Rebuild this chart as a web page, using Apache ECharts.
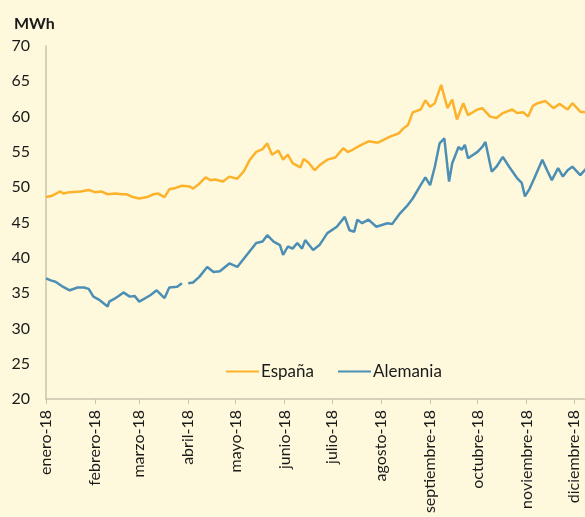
<!DOCTYPE html>
<html>
<head>
<meta charset="utf-8">
<script src="https://cdn.jsdelivr.net/npm/echarts@6/dist/echarts.min.js"></script>
<style>
html,body{margin:0;padding:0;background:#fef9dc;}
#chart{width:585px;height:517px;}
</style>
</head>
<body>
<div id="chart"></div>
<script>
// Month tick labels and their day-of-year positions
const monthLabels = ['enero-18','febrero-18','marzo-18','abril-18','mayo-18','junio-18','julio-18','agosto-18','septiembre-18','octubre-18','noviembre-18','diciembre-18'];
const monthDays = [0,31,59,90,120,151,181,212,243,273,304,334];
const yTicks = [20,25,30,35,40,45,50,55,60,65,70];

// España (day of year, MWh)
const espanaDays = [0,4,9,11,15,22,27,31,35,39,44,48,51,55,59,64,68,71,75,78,82,86,91,93,97,101,104,107,112,116,121,125,129,133,137,140,143,147,150,153,156,161,163,166,170,173,178,183,188,191,194,197,204,210,218,223,226,229,232,237,240,243,246,250,254,257,260,264,267,273,276,281,285,289,295,298,302,305,308,311,316,321,325,330,333,338,342];
const espana = [48.6,48.8,49.4,49.1,49.3,49.4,49.6,49.3,49.4,49.0,49.1,49.0,49.0,48.6,48.4,48.6,49.0,49.1,48.6,49.7,49.9,50.2,50.1,49.8,50.5,51.4,51.0,51.1,50.8,51.5,51.2,52.2,53.9,55.0,55.4,56.2,54.6,55.2,53.9,54.6,53.4,52.8,54.0,53.5,52.4,53.1,53.9,54.2,55.5,55.0,55.3,55.7,56.5,56.3,57.2,57.6,58.3,58.8,60.6,61.0,62.3,61.4,61.9,64.5,61.2,62.4,59.6,61.9,60.2,61.0,61.2,60.0,59.8,60.5,61.0,60.5,60.6,60.0,61.5,61.9,62.2,61.2,61.8,61.0,61.9,60.7,60.6];

// Alemania (day of year, MWh); null = missing data
const alemaniaDays = [0,3,6,10,15,20,24,27,30,34,39,40,44,46,49,53,56,59,66,70,75,78,83,86,88,90,93,97,102,106,110,116,121,127,133,137,140,144,148,150,153,156,159,162,164,169,173,178,184,189,192,195,197,200,204,209,216,219,224,229,232,237,240,243,246,249,252,255,257,261,263,265,267,273,276,278,282,285,289,293,298,301,303,306,309,314,317,320,324,327,330,333,338,342];
const alemania = [37.1,36.8,36.6,36.0,35.4,35.8,35.8,35.6,34.5,34.0,33.1,33.8,34.3,34.6,35.1,34.5,34.6,33.8,34.7,35.4,34.3,35.8,35.9,36.4,null,36.4,36.5,37.3,38.7,38.0,38.1,39.2,38.7,40.4,42.1,42.3,43.2,42.3,41.8,40.4,41.6,41.3,42.1,41.3,42.5,41.1,41.8,43.5,44.4,45.8,43.9,43.7,45.4,44.9,45.4,44.4,44.9,44.8,46.3,47.5,48.4,50.3,51.4,50.3,52.9,56.2,56.9,50.8,53.4,55.7,55.3,56.0,54.1,55.0,55.7,56.4,52.2,52.9,54.3,52.9,51.3,50.6,48.7,49.8,51.3,53.9,52.4,51.0,52.7,51.5,52.4,52.9,51.7,52.7];

const pair = (days, vals) => days.map((d, i) => [d, vals[i] === null ? '-' : vals[i]]);
const FONT = 'Lato, "Open Sans", sans-serif';

const chart = echarts.init(document.getElementById('chart'), null, {renderer: 'canvas'});
chart.setOption({
  backgroundColor: '#fef9dc',
  animation: false,
  textStyle: {fontFamily: FONT},
  title: {
    text: 'MWh', left: 9, top: 11,
    textStyle: {fontFamily: FONT, fontSize: 16, fontWeight: 'bold', color: '#1a1a1a'}
  },
  legend: {
    left: 221, top: 358,
    itemWidth: 33, itemHeight: 2, itemGap: 24,
    icon: 'rect',
    textStyle: {fontFamily: FONT, fontSize: 17, color: '#1a1a1a', padding: [0, 0, 0, -3]},
    data: ['España', 'Alemania']
  },
  grid: {left: 46, top: 46, right: 0, bottom: 118, containLabel: false},
  xAxis: {
    type: 'value', min: 0, max: 341,
    splitLine: {show: false},
    axisLine: {lineStyle: {color: '#c9c3ad', width: 1.5}},
    axisTick: {show: true, length: 5, customValues: monthDays, lineStyle: {color: '#c9c3ad'}},
    axisLabel: {
      customValues: monthDays, rotate: 90, margin: 11,
      fontFamily: FONT, fontSize: 16, color: '#1a1a1a',
      formatter: v => monthLabels[monthDays.indexOf(v)] || ''
    }
  },
  yAxis: {
    type: 'value', min: 20, max: 70, interval: 5,
    splitLine: {show: false},
    axisLine: {show: true, lineStyle: {color: '#c9c3ad', width: 1.5}},
    axisTick: {show: false},
    axisLabel: {fontFamily: FONT, fontSize: 16, color: '#1a1a1a', margin: 16,
      formatter: v => yTicks.includes(v) ? String(v) : ''}
  },
  series: [
    {name: 'España', type: 'line', data: pair(espanaDays, espana), showSymbol: false, symbol: 'none',
     lineStyle: {color: '#fdb22b', width: 2.5}, itemStyle: {color: '#fdb22b'}},
    {name: 'Alemania', type: 'line', data: pair(alemaniaDays, alemania), showSymbol: false, symbol: 'none',
     connectNulls: false,
     lineStyle: {color: '#4d8fb4', width: 2.5}, itemStyle: {color: '#4d8fb4'}}
  ]
});
</script>
</body>
</html>
